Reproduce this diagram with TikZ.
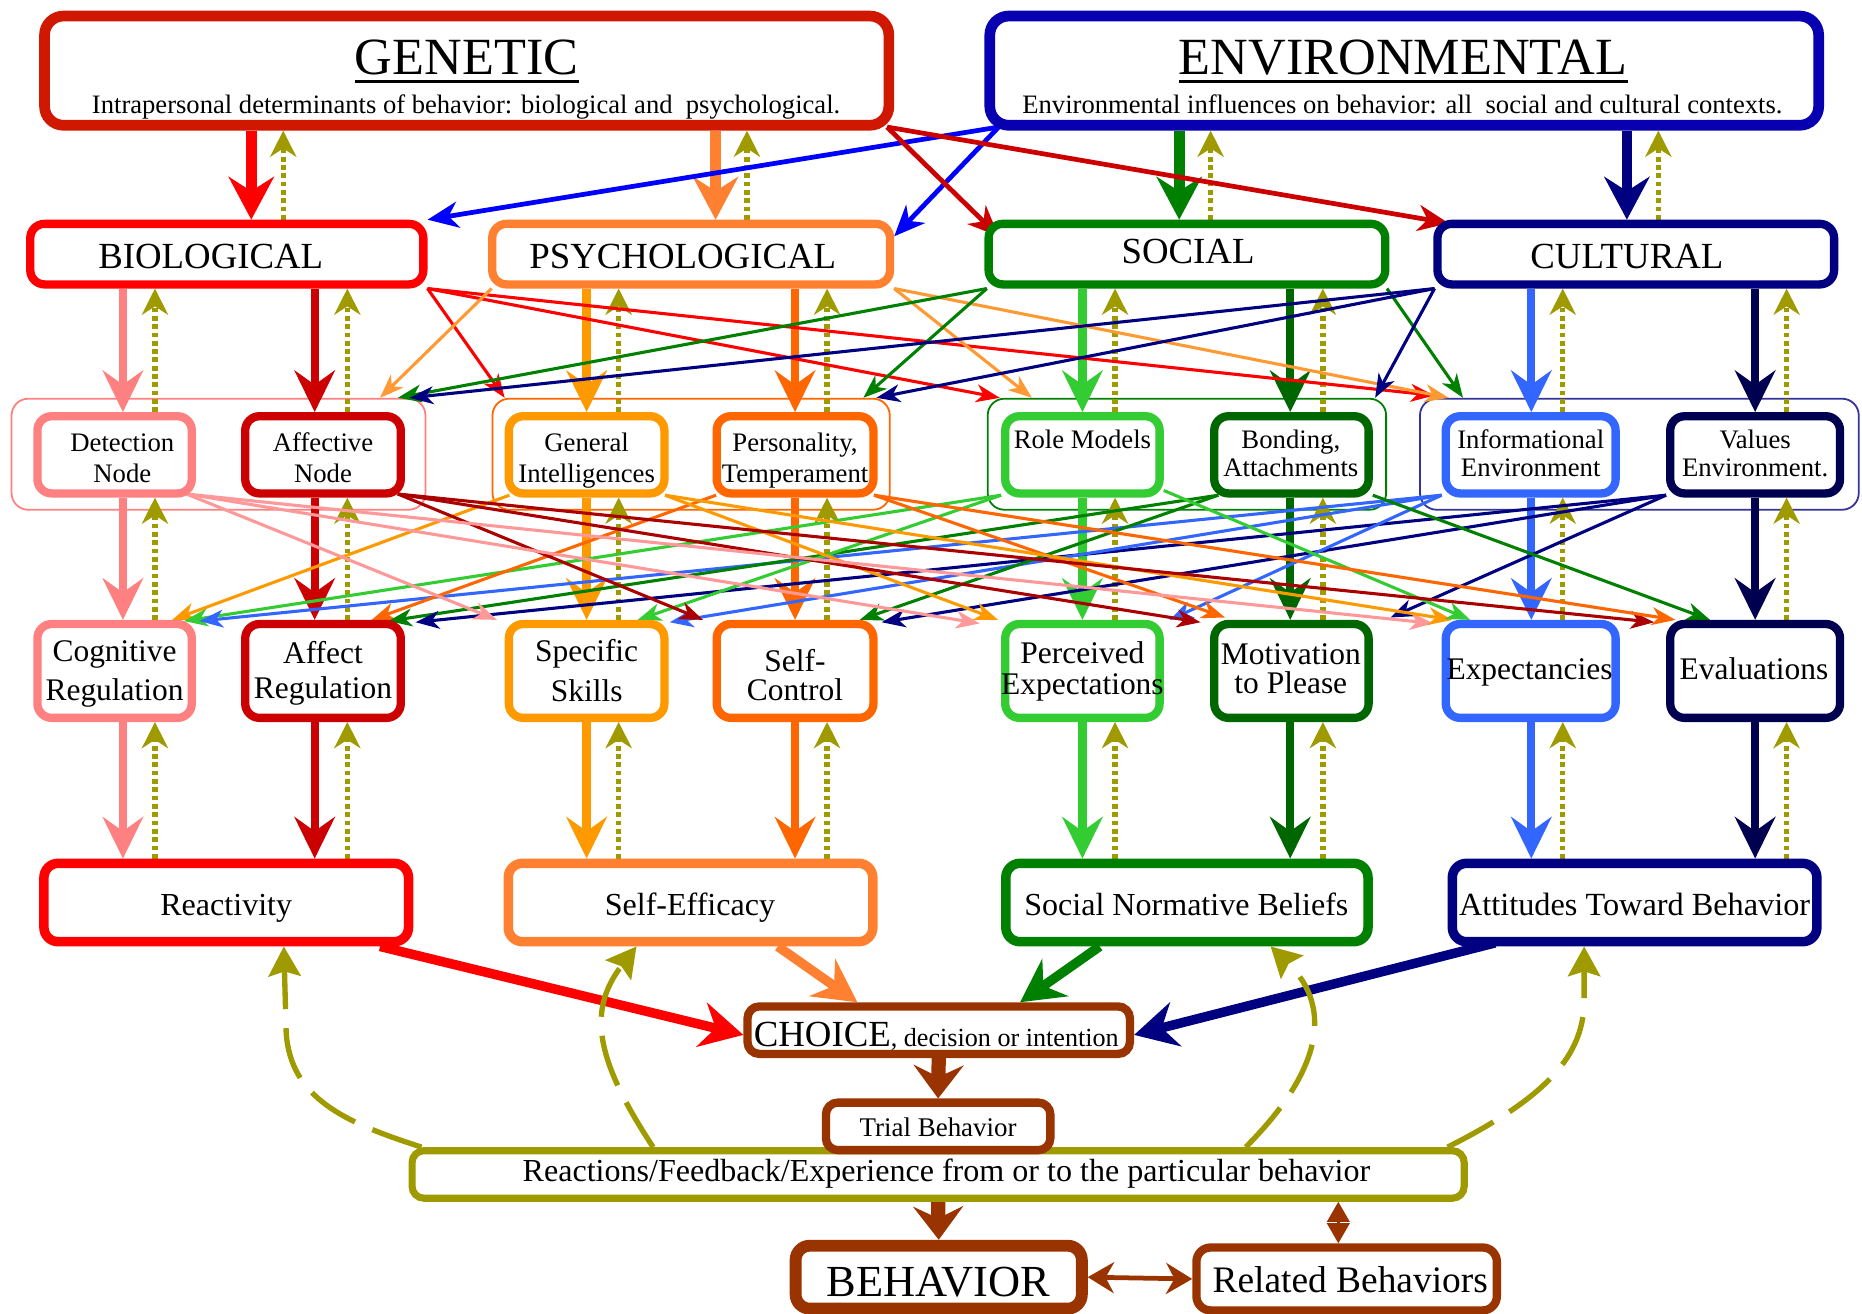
\documentclass[tikz,border=0pt]{standalone}
\usepackage{fontspec}
\setmainfont{Liberation Serif}
\usetikzlibrary{arrows.meta,calc}
\pgfdeclarelayer{bg}
\pgfdeclarelayer{mid}
\pgfsetlayers{bg,mid,main}

\definecolor{cGen}{RGB}{208,24,0}
\definecolor{cEnv}{RGB}{8,0,176}
\definecolor{cBio}{RGB}{255,0,0}
\definecolor{cPsy}{RGB}{255,128,48}
\definecolor{cPsyL}{RGB}{255,153,51}
\definecolor{cSoc}{RGB}{0,128,0}
\definecolor{cCul}{RGB}{0,0,128}
\definecolor{cDet}{RGB}{255,128,128}
\definecolor{cDetL}{RGB}{255,153,153}
\definecolor{cAff}{RGB}{204,0,0}
\definecolor{cAffD}{RGB}{170,0,0}
\definecolor{cGin}{RGB}{255,153,0}
\definecolor{cPer}{RGB}{255,102,0}
\definecolor{cRol}{RGB}{51,204,51}
\definecolor{cBon}{RGB}{0,102,0}
\definecolor{cInf}{RGB}{51,102,255}
\definecolor{cVal}{RGB}{0,0,80}
\definecolor{cBrn}{RGB}{153,51,0}
\definecolor{cOli}{RGB}{158,154,0}
\definecolor{cBlu}{RGB}{0,0,255}
\definecolor{cGrpC}{RGB}{51,51,153}

\newcommand\fsz[1]{\fontsize{#1}{#1}\selectfont}

\tikzset{
  bx/.style={draw=#1, fill=white, rounded corners=12pt, inner sep=0pt},
  grp/.style={draw=#1, rounded corners=14pt, line width=1.5pt, inner sep=0pt},
  lbl/.style={inner sep=0pt, anchor=base, text=black},
  vdown/.style={draw=#1, line width=7pt, -{Stealth[length=35pt,width=34pt,inset=12pt]}},
  vdownbig/.style={draw=#1, line width=9pt, -{Stealth[length=36pt,width=38pt,inset=12pt]}},
  vup/.style={draw=cOli, line width=4.5pt, dash pattern=on 4pt off 3pt, -{Stealth[length=22pt,width=22pt,inset=7pt]}},
  xarr/.style={draw=#1, line width=2.6pt, -{Stealth[length=20pt,width=15pt,inset=6pt]}},
  xtop/.style={draw=#1, line width=4pt, -{Stealth[length=26pt,width=22pt,inset=8pt]}},
  tochoice/.style={draw=#1, line width=8pt, -{Stealth[length=36pt,width=38pt,inset=12pt]}},
  brnarr/.style={draw=cBrn, line width=12pt, -{Stealth[length=28pt,width=42pt,inset=10pt]}},
  brnboth/.style={draw=cBrn, line width=4pt, {Stealth[length=22pt,width=26pt,inset=7pt]}-{Stealth[length=22pt,width=26pt,inset=7pt]}},
  diamarr/.style={draw=cBrn, line width=2pt, {Triangle[length=17pt,width=19pt]}-{Triangle[length=17pt,width=19pt]}},
  feedback/.style={draw=cOli, line width=4.5pt, dash pattern=on 44pt off 16pt, -{Stealth[length=25pt,width=27pt,inset=4pt]}},
}

\begin{document}
\begin{tikzpicture}[x=1pt,y=-1pt]
\useasboundingbox (0,0) rectangle (1568,1106);

% ---------- top level ----------
\node[bx=cGen, line width=9pt, rounded corners=16pt, minimum width=711pt, minimum height=92pt] (gen) at (393,59.5) {};
\node[bx=cEnv, line width=9pt, rounded corners=16pt, minimum width=698pt, minimum height=92pt] (env) at (1182.5,59.5) {};
\node[lbl, font=\fsz{44}] (gen-t) at (393,63) {GENETIC};
\draw[line width=2.8pt] ([yshift=-5.8pt]gen-t.base west) -- ([yshift=-5.8pt]gen-t.base east);
\node[lbl, font=\fsz{22.4}] (gen-s) at (392.5,95.5) {Intrapersonal determinants of behavior: biological and\ \ psychological.};
\node[lbl, font=\fsz{44}] (env-t) at (1181.5,63) {ENVIRONMENTAL};
\draw[line width=2.8pt] ([yshift=-5.8pt]env-t.base west) -- ([yshift=-5.8pt]env-t.base east);
\node[lbl, font=\fsz{22.4}] (env-s) at (1181,95.5) {Environmental influences on behavior: all\ \ social and cultural contexts.};

% ---------- domains ----------
\node[bx=cBio, line width=7pt, minimum width=331pt, minimum height=51pt] (bio) at (191,214) {};
\node[bx=cPsy, line width=7pt, minimum width=335pt, minimum height=51pt] (psy) at (582,214) {};
\node[bx=cSoc, line width=7pt, minimum width=334pt, minimum height=51pt] (soc) at (999.5,214) {};
\node[bx=cCul, line width=7pt, minimum width=334pt, minimum height=51pt] (cul) at (1377.5,214) {};
\node[lbl, font=\fsz{31}] (bio-t) at (177.5,226) {BIOLOGICAL};
\node[lbl, font=\fsz{31}] (psy-t) at (575,226) {PSYCHOLOGICAL};
\node[lbl, font=\fsz{31}] (soc-t) at (1000.5,222) {SOCIAL};
\node[lbl, font=\fsz{31}] (cul-t) at (1370,226) {CULTURAL};

% ---------- group frames ----------
\begin{pgfonlayer}{bg}
\node[grp=cDet,  minimum width=348.5pt, minimum height=93.5pt] (gbio) at (184,382.5) {};
\node[grp=cPer,  minimum width=334.5pt, minimum height=93.5pt] (gpsy) at (582,382.5) {};
\node[grp=cSoc,  minimum width=335.5pt, minimum height=93.5pt] (gsoc) at (999.5,382.5) {};
\node[grp=cGrpC, minimum width=369.5pt, minimum height=93.5pt] (gcul) at (1380.5,382.5) {};
\end{pgfonlayer}

% ---------- determinants ----------
\foreach \nm/\cx/\w/\col in {det/96.5/130/cDet, aff/272/131/cAff, gin/494/131/cGin, per/669.5/132/cPer,
                            rol/911.5/130/cRol, bon/1087.5/130/cBon, inf/1289/143/cInf, val/1478/143/cVal}
  \node[bx=\col, line width=7pt, minimum width=\w pt, minimum height=65pt] (\nm) at (\cx,383) {};
\foreach \nm/\cx/\w/\col in {cog/96.5/130/cDet, are/272/131/cAff, ssk/494/131/cGin, sct/669.5/132/cPer,
                            pex/911.5/130/cRol, mtp/1087.5/130/cBon, exs/1289/143/cInf, evl/1478/143/cVal}
  \node[bx=\col, line width=7pt, minimum width=\w pt, minimum height=79pt] (\nm) at (\cx,565) {};

\node[lbl, font=\fsz{22.5}] (det-a) at (103,380) {Detection};
\node[lbl, font=\fsz{22.5}] (det-b) at (103,406) {Node};
\node[lbl, font=\fsz{22.5}] (aff-a) at (272,380) {Affective};
\node[lbl, font=\fsz{22.5}] (aff-b) at (272,406) {Node};
\node[lbl, font=\fsz{22.5}] (gin-a) at (494,380) {General};
\node[lbl, font=\fsz{22.5}] (gin-b) at (494,406) {Intelligences};
\node[lbl, font=\fsz{22.5}] (per-a) at (669.5,380) {Personality,};
\node[lbl, font=\fsz{22.5}] (per-b) at (669.5,406) {Temperament};
\node[lbl, font=\fsz{22.5}] (rol-a) at (911.5,378) {Role Models};
\node[lbl, font=\fsz{22.5}] (bon-a) at (1087,378) {Bonding,};
\node[lbl, font=\fsz{22.5}] (bon-b) at (1087,401) {Attachments};
\node[lbl, font=\fsz{22.5}] (inf-a) at (1289,378) {Informational};
\node[lbl, font=\fsz{22.5}] (inf-b) at (1289,401) {Environment};
\node[lbl, font=\fsz{22.5}] (val-a) at (1478,378) {Values};
\node[lbl, font=\fsz{22.5}] (val-b) at (1478,401) {Environment.};

\node[lbl, font=\fsz{26.5}] (cog-a) at (96.5,557) {Cognitive};
\node[lbl, font=\fsz{26.5}] (cog-b) at (96.5,589.5) {Regulation};
\node[lbl, font=\fsz{26.5}] (are-a) at (272,558.5) {Affect};
\node[lbl, font=\fsz{26.5}] (are-b) at (272,588) {Regulation};
\node[lbl, font=\fsz{26.5}] (ssk-a) at (494,557) {Specific};
\node[lbl, font=\fsz{26.5}] (ssk-b) at (494,591) {Skills};
\node[lbl, font=\fsz{26.5}] (sct-a) at (669.5,565.6) {Self-};
\node[lbl, font=\fsz{26.5}] (sct-b) at (669.5,589.5) {Control};
\node[lbl, font=\fsz{26.5}] (pex-a) at (911.5,558.5) {Perceived};
\node[lbl, font=\fsz{26.5}] (pex-b) at (911.5,585) {Expectations};
\node[lbl, font=\fsz{26.5}] (mtp-a) at (1087,559.5) {Motivation};
\node[lbl, font=\fsz{26.5}] (mtp-b) at (1087,583.6) {to Please};
\node[lbl, font=\fsz{26.5}] (exs-a) at (1288,572.6) {Expectancies};
\node[lbl, font=\fsz{26.5}] (evl-a) at (1477,572.6) {Evaluations};

% ---------- mediators ----------
\node[bx=cBio, line width=8pt, minimum width=307pt, minimum height=66pt] (rea) at (190.5,760) {};
\node[bx=cPsy, line width=8pt, minimum width=307pt, minimum height=66pt] (sef) at (581.5,760) {};
\node[bx=cSoc, line width=8pt, minimum width=305pt, minimum height=66pt] (snb) at (999.5,760) {};
\node[bx=cCul, line width=8pt, minimum width=307pt, minimum height=66pt] (att) at (1376.5,760) {};
\node[lbl, font=\fsz{27}] (rea-t) at (190.5,771) {Reactivity};
\node[lbl, font=\fsz{27}] (sef-t) at (581,771) {Self-Efficacy};
\node[lbl, font=\fsz{27}] (snb-t) at (999,771) {Social Normative Beliefs};
\node[lbl, font=\fsz{27.2}] (att-t) at (1376.5,771) {Attitudes Toward Behavior};

% ---------- choice and behaviour ----------
\node[bx=cBrn, line width=7pt, rounded corners=10pt, minimum width=322pt, minimum height=40pt] (choice) at (790.5,867.5) {};
\node[lbl, anchor=base west] (choice-t) at (634.6,881.4) {{\fsz{31}CHOICE}{\fsz{22}, decision or intention}};
\node[bx=cOli, line width=6pt, rounded corners=10pt, minimum width=886pt, minimum height=40pt] (reac) at (790,989) {};
\node[lbl, font=\fsz{27}] (reac-t) at (797,995) {Reactions/Feedback/Experience from or to the particular behavior};
\node[bx=cBrn, line width=7pt, rounded corners=10pt, minimum width=189pt, minimum height=40pt] (trial) at (790,948.5) {};
\node[lbl, font=\fsz{22.7}] (trial-t) at (790,957) {Trial Behavior};
\node[bx=cBrn, line width=10pt, rounded corners=12pt, minimum width=241pt, minimum height=53pt] (beh) at (790.5,1075.5) {};
\node[lbl, font=\fsz{37.4}] (beh-t) at (790.3,1092) {BEHAVIOR};
\node[bx=cBrn, line width=7pt, rounded corners=12pt, minimum width=253pt, minimum height=53pt] (rel) at (1134,1077) {};
\node[lbl, font=\fsz{31.5}] (rel-t) at (1137,1088) {Related Behaviors};

% ---------- column positions ----------
\coordinate (k1) at (211.6,0);  \coordinate (k1u) at (238.5,0);
\coordinate (k2) at (602.6,0);  \coordinate (k2u) at (629,0);
\coordinate (k3) at (993,0);    \coordinate (k3u) at (1019.5,0);
\coordinate (k4) at (1370,0);   \coordinate (k4u) at (1396.5,0);
\coordinate (a1) at (103.5,0);  \coordinate (a1u) at (130.5,0);
\coordinate (a2) at (265,0);    \coordinate (a2u) at (292.5,0);
\coordinate (a3) at (494,0);    \coordinate (a3u) at (521,0);
\coordinate (a4) at (669.5,0);  \coordinate (a4u) at (696.5,0);
\coordinate (a5) at (911.5,0);  \coordinate (a5u) at (939,0);
\coordinate (a6) at (1086.5,0); \coordinate (a6u) at (1114,0);
\coordinate (a7) at (1289.5,0); \coordinate (a7u) at (1316,0);
\coordinate (a8) at (1478,0);   \coordinate (a8u) at (1504.5,0);
\coordinate (f1) at (239,0);    \coordinate (f4) at (1334,0);
\coordinate (dm) at (1127,0);

\begin{pgfonlayer}{mid}
% top level to domains
\draw[vdownbig=cBio] (gen.south -| k1) -- (bio.north -| k1);
\draw[vup] (bio.north -| k1u) -- (gen.south -| k1u);
\draw[vdownbig=cPsy] (gen.south -| k2) -- (psy.north -| k2);
\draw[vup] (psy.north -| k2u) -- (gen.south -| k2u);
\draw[vdownbig=cSoc] (env.south -| k3) -- (soc.north -| k3);
\draw[vup] (soc.north -| k3u) -- (env.south -| k3u);
\draw[vdownbig=cCul] (env.south -| k4) -- (cul.north -| k4);
\draw[vup] (cul.north -| k4u) -- (env.south -| k4u);

\draw[xtop=cBlu] ($(env.south west)+(12,-3)$) -- (bio.north east);
\draw[xtop=cBlu] ($(env.south west)+(12,-3)$) -- ($(psy.north east)+(0,14)$);
\draw[xtop=cAff] ($(gen.south east)+(-6,-3)$) -- ($(soc.north west)+(12,14)$);
\draw[xtop=cAff] ($(gen.south east)+(-6,-3)$) -- ($(cul.north west)+(13,3)$);

% domains to determinants
\foreach \dom/\nd/\c/\col in {bio/det/a1/cDet, bio/aff/a2/cAff, psy/gin/a3/cGin, psy/per/a4/cPer,
                              soc/rol/a5/cRol, soc/bon/a6/cBon, cul/inf/a7/cInf, cul/val/a8/cVal}{
  \draw[vdown=\col] (\dom.south -| \c) -- (\nd.north -| \c);
  \draw[vup] (\nd.north -| \c u) -- (\dom.south -| \c u);
}

% domains to the other groups
\draw[xarr=cBio] (bio.south east) -- ($(gpsy.north west)+(11,0)$);
\draw[xarr=cBio] (bio.south east) -- ($(gsoc.north west)+(11,0)$);
\draw[xarr=cBio] (bio.south east) -- ($(gcul.north west)+(13,-2)$);
\draw[xarr=cPsyL] ($(psy.south west)+(3,0)$) -- ($(gbio.north east)+(-39,0)$);
\draw[xarr=cPsyL] (psy.south east) -- ($(gsoc.north west)+(38,0)$);
\draw[xarr=cPsyL] (psy.south east) -- ($(gcul.north west)+(25,0)$);
\draw[xarr=cSoc] ($(soc.south west)+(2,0)$) -- ($(gbio.north east)+(-24,0)$);
\draw[xarr=cSoc] ($(soc.south west)+(2,0)$) -- ($(gpsy.north east)+(-23,0)$);
\draw[xarr=cSoc] ($(soc.south east)+(-2,0)$) -- ($(gcul.north west)+(37,0)$);
\draw[xarr=cCul] ($(cul.south west)+(1,0)$) -- ($(gbio.north east)+(-14,0)$);
\draw[xarr=cCul] ($(cul.south west)+(1,0)$) -- ($(gpsy.north east)+(-12,0)$);
\draw[xarr=cCul] ($(cul.south west)+(1,0)$) -- ($(gsoc.north east)+(-10,0)$);

% determinants to their own mechanisms, and mechanisms to mediators
\foreach \nd/\mc/\md/\c/\col in {det/cog/rea/a1/cDet, aff/are/rea/a2/cAff, gin/ssk/sef/a3/cGin, per/sct/sef/a4/cPer,
                                 rol/pex/snb/a5/cRol, bon/mtp/snb/a6/cBon, inf/exs/att/a7/cInf, val/evl/att/a8/cVal}{
  \draw[vdown=\col] (\nd.south -| \c) -- (\mc.north -| \c);
  \draw[vup] (\mc.north -| \c u) -- (\nd.south -| \c u);
  \draw[vdown=\col] (\mc.south -| \c) -- (\md.north -| \c);
  \draw[vup] (\md.north -| \c u) -- (\mc.south -| \c u);
}

% determinants to the mechanisms of the other groups
\draw[xarr=cGin] ($(gin.south west)+(4,-2)$) -- ($(cog.north west)+(117,0)$);
\draw[xarr=cRol] ($(rol.south west)+(0,-2)$) -- ($(cog.north west)+(127,1)$);
\draw[xarr=cInf] ($(inf.south west)+(0,-2)$) -- ($(cog.north west)+(140,1)$);
\draw[xarr=cPer] ($(per.south west)+(3,-2)$) -- ($(are.north west)+(110,0)$);
\draw[xarr=cSoc] ($(bon.south west)+(7,-2)$) -- ($(are.north west)+(124,1)$);
\draw[xarr=cCul] ($(val.south west)+(0,-2)$) -- ($(are.north west)+(147,2)$);
\draw[xarr=cDetL] ($(det.south east)+(-8,-3)$) -- ($(ssk.north west)+(-6.5,0)$);
\draw[xarr=cRol] ($(rol.south west)+(0,-2)$) -- ($(ssk.north west)+(112,0)$);
\draw[xarr=cInf] ($(inf.south west)+(0,-2)$) -- ($(ssk.north west)+(139,2)$);
\draw[xarr=cAffD] ($(aff.south east)+(-6,-3)$) -- ($(sct.north west)+(-8,0)$);
\draw[xarr=cSoc] ($(bon.south west)+(7,-2)$) -- ($(sct.north west)+(124,0)$);
\draw[xarr=cCul] ($(val.south west)+(0,-2)$) -- ($(sct.north west)+(142.5,2)$);
\draw[xarr=cDetL] ($(det.south east)+(-8,-3)$) -- ($(pex.north west)+(-18,3)$);
\draw[xarr=cGin] ($(gin.south east)+(-3,-2)$) -- ($(pex.north west)+(-2.5,0)$);
\draw[xarr=cInf] ($(inf.south west)+(0,-2)$) -- ($(pex.north west)+(142,0)$);
\draw[xarr=cAffD] ($(aff.south east)+(-6,-3)$) -- ($(mtp.north west)+(-8,2)$);
\draw[xarr=cPer] ($(per.south east)+(-3,-2)$) -- ($(mtp.north west)+(12.6,-2)$);
\draw[xarr=cCul] ($(val.south west)+(0,-2)$) -- ($(mtp.north west)+(152,-2)$);
\draw[xarr=cDetL] ($(det.south east)+(-8,-3)$) -- ($(exs.north west)+(-7,3)$);
\draw[xarr=cGin] ($(gin.south east)+(-3,-2)$) -- ($(exs.north west)+(9,0)$);
\draw[xarr=cRol] ($(rol.south east)+(0,-6)$) -- ($(exs.north west)+(24,0)$);
\draw[xarr=cAffD] ($(aff.south east)+(-6,-3)$) -- ($(evl.north west)+(-10,2)$);
\draw[xarr=cPer] ($(per.south east)+(-3,-2)$) -- ($(evl.north west)+(8,0)$);
\draw[xarr=cSoc] ($(bon.south east)+(0,-2)$) -- ($(evl.north west)+(37,0)$);

% mediators to choice
\draw[tochoice=cBio] ($(rea.south east)+(-28,0)$) -- ($(choice.west)+(0,4)$);
\draw[tochoice=cPsy] ($(sef.south east)+(-84,0)$) -- ($(choice.north west)+(96,0)$);
\draw[tochoice=cSoc] ($(snb.south west)+(83,0)$) -- ($(choice.north west)+(233,0)$);
\draw[tochoice=cCul] ($(att.south west)+(40,-3)$) -- ($(choice.east)+(0,4)$);

% choice to behaviour
\draw[brnarr] (choice.south) -- (trial.north);
\draw[brnarr] (reac.south) -- (beh.north);
\draw[brnboth] (beh.east) -- (rel.west);
\draw[diamarr] (reac.south -| dm) -- (rel.north -| dm);

% feedback loops
\draw[feedback] ($(reac.north west)+(11,0)$) .. controls (290,945) and (245,925) .. (241,870) -- (rea.south -| f1);
\draw[feedback] ($(reac.north west)+(206,0)$) .. controls (500,890) and (495,850) .. ($(sef.south west)+(112,0)$);
\draw[feedback] ($(reac.north west)+(705,0)$) .. controls (1110,905) and (1125,850) .. ($(snb.south west)+(227,0)$);
\draw[feedback] ($(reac.north east)+(-17,0)$) .. controls (1300,925) and (1335,890) .. (1334,840) -- (att.south -| f4);
\end{pgfonlayer}
\end{tikzpicture}
\end{document}
